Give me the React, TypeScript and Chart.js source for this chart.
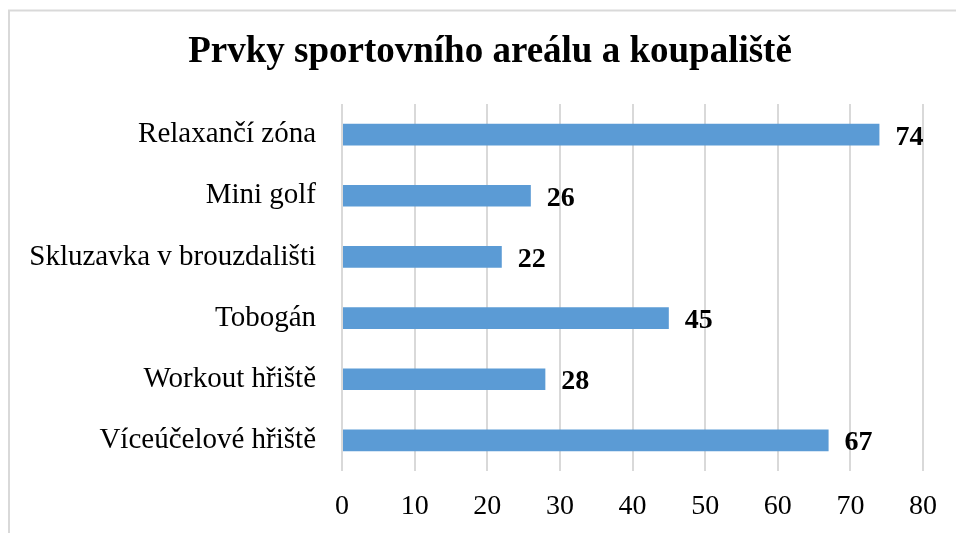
import React, { useEffect, useRef } from "react";
import { Chart, registerables } from "chart.js";

Chart.register(...registerables);

const TITLE = "Prvky sportovního areálu a koupaliště";
const categories = [
  "Relaxančí zóna",
  "Mini golf",
  "Skluzavka v brouzdališti",
  "Tobogán",
  "Workout hřiště",
  "Víceúčelové hřiště",
];
const values = [74, 26, 22, 45, 28, 67];
const xMin = 0;
const xMax = 80;
const xStep = 10;

const FONT = "'Liberation Serif', 'Times New Roman', serif";

const frame = {
  id: "frame",
  beforeDraw(chart: any) {
    const ctx = chart.ctx;
    ctx.save();
    ctx.fillStyle = "#ffffff";
    ctx.fillRect(0, 0, chart.width, chart.height);
    ctx.strokeStyle = "#d9d9d9";
    ctx.lineWidth = 2;
    ctx.beginPath();
    ctx.moveTo(9, chart.height);
    ctx.lineTo(9, 10.5);
    ctx.lineTo(chart.width, 10.5);
    ctx.stroke();
    ctx.font = `bold 37px ${FONT}`;
    ctx.fillStyle = "#000000";
    ctx.textAlign = "center";
    ctx.textBaseline = "middle";
    ctx.fillText(TITLE, 490, 52);
    ctx.restore();
  },
};

const valueLabels = {
  id: "valueLabels",
  afterDatasetsDraw(chart: any) {
    const ctx = chart.ctx;
    const meta = chart.getDatasetMeta(0);
    ctx.save();
    ctx.font = `bold 28px ${FONT}`;
    ctx.fillStyle = "#000000";
    ctx.textAlign = "left";
    ctx.textBaseline = "alphabetic";
    meta.data.forEach((el: any, i: number) => {
      ctx.fillText(String(values[i]), el.x + 16, el.y + 10);
    });
    ctx.restore();
  },
};

export default function App() {
  const ref = useRef<HTMLCanvasElement>(null);
  useEffect(() => {
    if (!ref.current) return;
    const chart = new Chart(ref.current, {
      type: "bar",
      data: {
        labels: categories,
        datasets: [
          {
            data: values,
            backgroundColor: "#5B9BD5",
            borderWidth: 0,
            barPercentage: 0.71,
            categoryPercentage: 0.5,
          },
        ],
      },
      options: {
        indexAxis: "y",
        responsive: false,
        animation: false,
        layout: { padding: { left: 0, right: 32, top: 104, bottom: 0 } },
        plugins: {
          legend: { display: false },
          tooltip: { enabled: false },
          title: { display: false },
        },
        scales: {
          x: {
            min: xMin,
            max: xMax,
            grid: { color: "#d9d9d9", lineWidth: 2, drawTicks: false },
            border: { display: false },
            ticks: {
              stepSize: xStep,
              color: "#000000",
              font: { family: FONT, size: 28 },
              padding: 19,
              maxRotation: 0,
            },
            afterFit(scale: any) {
              scale.height = 62;
            },
          },
          y: {
            grid: { display: false, drawTicks: false },
            border: { display: false },
            ticks: {
              color: "#000000",
              font: { family: FONT, size: 29 },
              padding: 26,
            },
            afterFit(scale: any) {
              scale.width = 342;
            },
          },
        },
      },
      plugins: [frame, valueLabels],
    });
    return () => chart.destroy();
  }, []);
  return (
    <div style={{ position: "absolute", left: 0, top: 0, width: 956, height: 533 }}>
      <canvas ref={ref} width={956} height={533} style={{ width: 956, height: 533 }} />
    </div>
  );
}
